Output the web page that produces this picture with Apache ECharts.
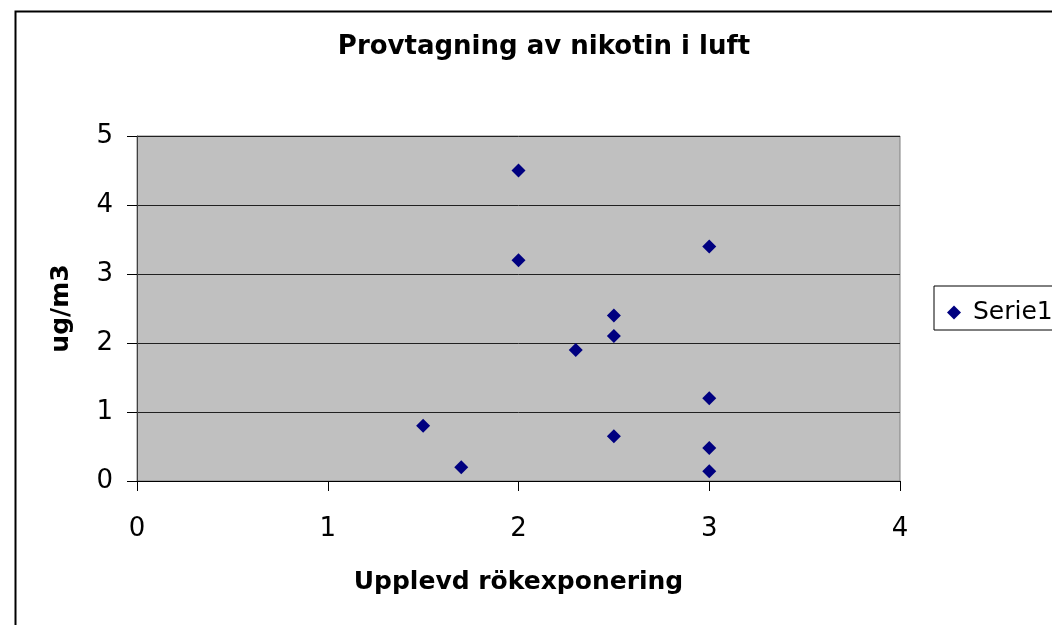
<!DOCTYPE html>
<html>
<head>
<meta charset="utf-8">
<script src="https://cdn.jsdelivr.net/npm/echarts@6/dist/echarts.min.js"></script>
<style>
html,body{margin:0;padding:0;background:#fff;}
#chart{width:1052px;height:625px;}
</style>
</head>
<body>
<div id="chart"></div>
<script>
const titleText = 'Provtagning av nikotin i luft';
const xTitle = 'Upplevd rökexponering';
const yTitle = 'ug/m3';
const seriesName = 'Serie1';
const xValues = [1.5, 1.7, 2.0, 2.0, 2.3, 2.5, 2.5, 2.5, 3.0, 3.0, 3.0, 3.0];
const yValues = [0.8, 0.2, 4.5, 3.2, 1.9, 2.4, 2.1, 0.65, 3.4, 1.2, 0.48, 0.14];

const points = xValues.map((x, i) => [x, yValues[i]]);
const font = 'DejaVu Sans, Liberation Sans, Arial, sans-serif';

const chart = echarts.init(document.getElementById('chart'), null, {renderer: 'canvas'});
chart.setOption({
  animation: false,
  backgroundColor: '#fff',
  title: {
    text: titleText,
    left: 539, top: 29, textAlign: 'center',
    textStyle: {fontFamily: font, fontSize: 26, fontWeight: 'bold', color: '#000'}
  },
  graphic: [{
    type: 'rect', left: 13, top: 9,
    shape: {width: 1200, height: 800},
    style: {fill: 'none', stroke: '#000', lineWidth: 2},
    silent: true, z: 100
  }],
  legend: {
    left: 934, top: 286,
    orient: 'vertical',
    data: [{name: seriesName, icon: 'diamond'}],
    itemWidth: 14, itemHeight: 14,
    padding: [14, 60, 5, 13],
    borderColor: '#000', borderWidth: 1,
    backgroundColor: '#fff',
    textStyle: {fontFamily: font, fontSize: 25, color: '#000', padding: [0, 0, 0, 7]}
  },
  grid: {
    left: 137, right: 152, top: 136, bottom: 144,
    show: true, backgroundColor: '#C0C0C0', borderColor: '#808080', borderWidth: 1
  },
  xAxis: {
    type: 'value', min: 0, max: 4, interval: 1,
    name: xTitle, nameLocation: 'middle', nameGap: 89,
    nameTextStyle: {fontFamily: font, fontSize: 25, fontWeight: 'bold', color: '#000'},
    axisLine: {show: true, lineStyle: {color: '#000', width: 1}},
    axisTick: {show: true, length: 10, inside: false, lineStyle: {color: '#000'}},
    axisLabel: {fontFamily: font, fontSize: 26, color: '#000', margin: 35},
    splitLine: {show: false}
  },
  yAxis: {
    type: 'value', min: 0, max: 5, interval: 1,
    name: yTitle, nameLocation: 'middle', nameGap: 63, nameRotate: 90,
    nameTextStyle: {fontFamily: font, fontSize: 25, fontWeight: 'bold', color: '#000'},
    axisLine: {show: true, lineStyle: {color: '#404040', width: 1}},
    axisTick: {show: true, length: 10, inside: false, lineStyle: {color: '#000'}},
    axisLabel: {fontFamily: font, fontSize: 26, color: '#000', margin: 24},
    splitLine: {show: true, lineStyle: {color: '#202020', width: 1}}
  },
  series: [{
    name: seriesName,
    type: 'scatter',
    symbol: 'diamond',
    symbolSize: 14,
    itemStyle: {color: '#000080', opacity: 1},
    data: points
  }]
});
</script>
</body>
</html>
